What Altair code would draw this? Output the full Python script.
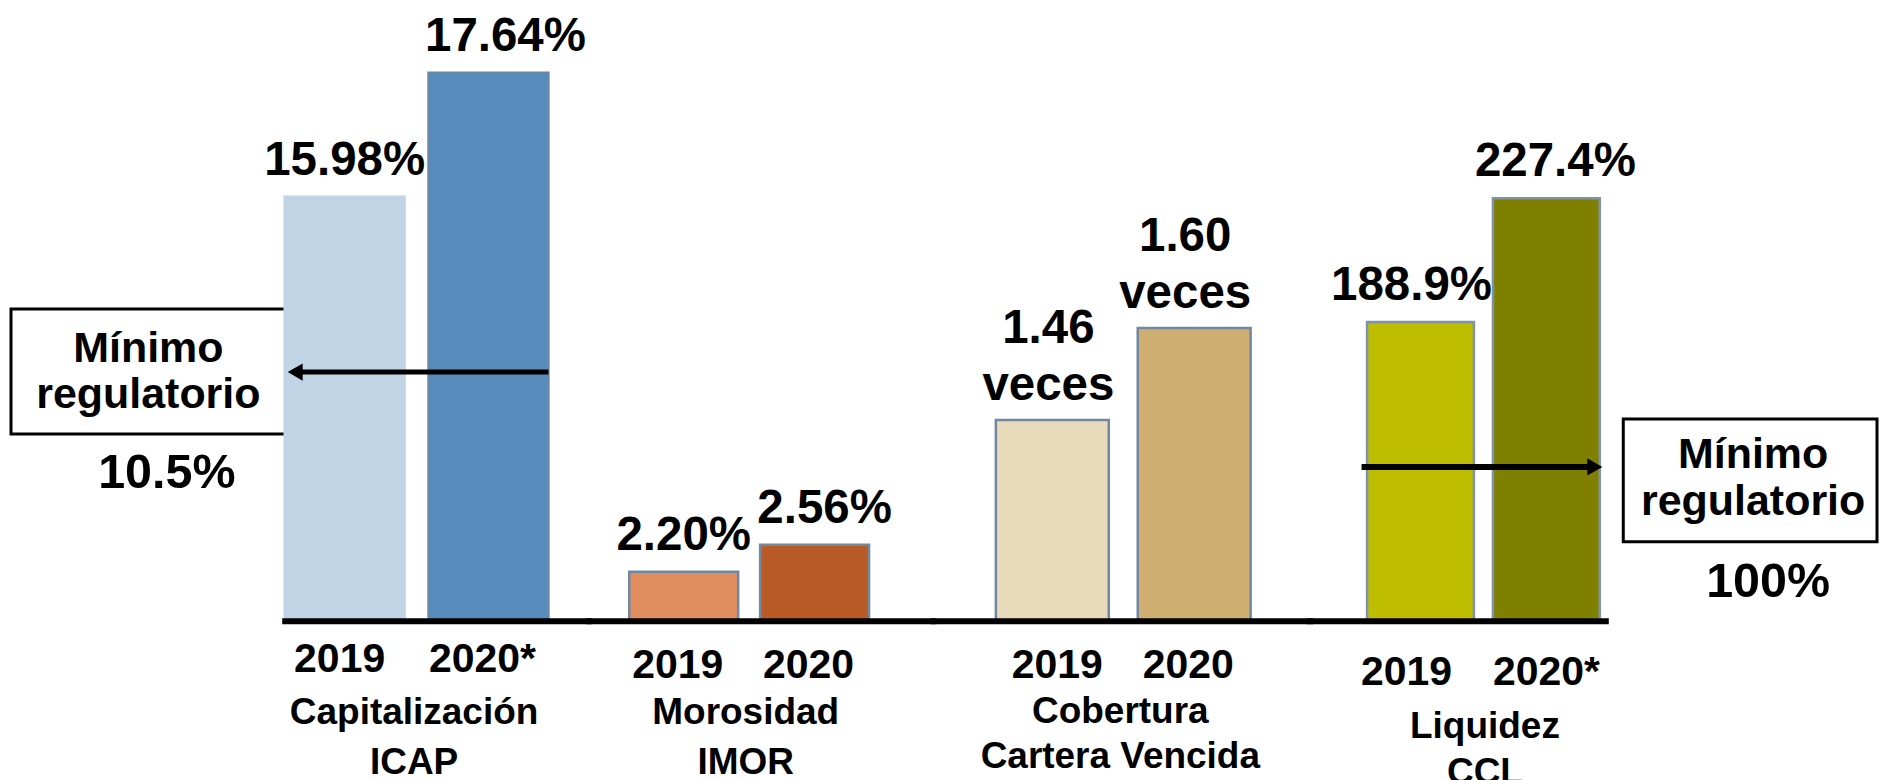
import altair as alt
import pandas as pd

FONT = "Liberation Sans"

# ---------------- data ----------------
group_titles = [["Capitalización", "ICAP"], ["Morosidad", "IMOR"],
                ["Cobertura", "Cartera Vencida"], ["Liquidez", "CCL"]]
years = [["2019", "2020*"], ["2019", "2020"], ["2019", "2020"], ["2019", "2020*"]]
values = [[15.98, 17.64], [2.20, 2.56], [1.46, 1.60], [188.9, 227.4]]
value_labels = [["15.98%", "17.64%"], ["2.20%", "2.56%"], ["1.46", "1.60"], ["188.9%", "227.4%"]]
unit_labels = [["", ""], ["", ""], ["veces", "veces"], ["", ""]]
fill_colors = [["#C0D4E6", "#578BBB"], ["#E08D5F", "#B85B26"],
               ["#E8DABA", "#CFAF71"], ["#BFBD00", "#808000"]]
stroke_colors = [["#C0D4E6", "#6A87A6"], ["#7088A0", "#7088A0"],
                 ["#7088A0", "#7088A0"], ["#7C93AA", "#7C93AA"]]
box_text = ["Mínimo", "regulatorio"]
minimum_labels = ["10.5%", "100%"]

# ---------------- layout (not data) ----------------
H = 612
Y_DOMAINS = [(10.30, 18.49), (1.547, 9.707), (1.154, 2.0855), (96.07, 286.07)]
WIDTHS = [304, 345, 377, 296]
BAND = [(0.1667, 0.139, 0.0), (0.168, 0.4008, 0.39), (0.204, 0.4296, 0.516), (0.151, 0.25, 0.913)]
LABEL_PAD = [19, 25, 25, 32]
LABEL_OFFSET = [(-5, -6), (-6, -6), (5, -6), (-14, 0)]
VALUE_DX = [[0, 17], [0, 10], [-4, -9], [-9, 9]]
TITLE_X = [129, 157, 187, 175]
TITLE_Y = [74, 74, 73, 88]
TITLE_LH = [50, 50, 45, 46]
LEFT_W = 276
RIGHT_W = 1873 - LEFT_W - sum(WIDTHS)

one = pd.DataFrame({"k": [0]})


def panel(i):
    df = pd.DataFrame({
        "year": years[i], "value": values[i], "label": value_labels[i],
        "unit": unit_labels[i], "fill": fill_colors[i], "stroke": stroke_colors[i],
    })
    d0, d1 = Y_DOMAINS[i]
    pi, po, al = BAND[i]
    off0, off1 = LABEL_OFFSET[i]
    label_offset = {"condition": {"test": "datum.value === '%s'" % years[i][0], "value": off0},
                    "value": off1}
    x = alt.X("year:N", sort=years[i],
              scale=alt.Scale(paddingInner=pi, paddingOuter=po, align=al),
              axis=alt.Axis(title=group_titles[i], labelAngle=0, labelFont=FONT,
                            labelFontSize=41, labelFontWeight="bold", labelColor="black",
                            labelPadding=LABEL_PAD[i], labelOffset=label_offset,
                            ticks=False, tickSize=0,
                            domainColor="black", domainWidth=6, domainCap="square", zindex=1,
                            titleFont=FONT, titleFontSize=37, titleFontWeight="bold",
                            titleColor="black", titleBaseline="top", titleAlign="center",
                            titleX=TITLE_X[i], titleY=TITLE_Y[i],
                            titleLineHeight=TITLE_LH[i]))
    y = alt.Y("value:Q", scale=alt.Scale(domain=[d0, d1], zero=False, nice=False), axis=None)
    base = alt.Chart(df)
    bars = base.mark_bar(strokeWidth=2.5).encode(
        x=x, y=y, y2=alt.Y2Datum(d0),
        fill=alt.Fill("fill:N", scale=None),
        stroke=alt.Stroke("stroke:N", scale=None),
    )
    layers = [bars]
    has_unit = any(unit_labels[i])
    tkw = dict(font=FONT, fontSize=47.5, fontWeight="bold", color="black",
               align="center", baseline="alphabetic")
    for j, yr in enumerate(years[i]):
        sub = base.transform_filter(alt.datum.year == yr)
        layers.append(sub.mark_text(dy=-77 if has_unit else -22, dx=VALUE_DX[i][j], **tkw).encode(
            x=x, y=y, text="label:N"))
        if has_unit:
            layers.append(sub.mark_text(dy=-20, dx=VALUE_DX[i][j], **tkw).encode(
                x=x, y=y, text="unit:N"))
    if i == 0:
        layers.append(alt.Chart(one).mark_rule(color="black", strokeWidth=5).encode(
            x=alt.value(264), x2=alt.value(12), y=alt.value(363)))
        layers.append(alt.Chart(one).mark_point(shape="triangle-left", filled=True, size=300,
                                                color="black", opacity=1).encode(
            x=alt.value(10.5), y=alt.value(363)))
    if i == 3:
        layers.append(alt.Chart(one).mark_rule(color="black", strokeWidth=6).encode(
            x=alt.value(52), x2=alt.value(284), y=alt.value(458)))
        layers.append(alt.Chart(one).mark_point(shape="triangle-right", filled=True, size=300,
                                                color="black", opacity=1).encode(
            x=alt.value(285.5), y=alt.value(458)))
    return alt.layer(*layers).properties(width=WIDTHS[i], height=H)


def box_panel(width, bx1, bx2, by1, by2, cx, l1, l2, mcx, mby, mlabel):
    rect = alt.Chart(one).mark_rect(fill="white", stroke="black", strokeWidth=3).encode(
        x=alt.value(bx1), x2=alt.value(bx2), y=alt.value(by1), y2=alt.value(by2))
    kw = dict(font=FONT, fontWeight="bold", color="black", align="center", baseline="alphabetic")
    t1 = alt.Chart(one).mark_text(fontSize=43, **kw).encode(
        x=alt.value(cx), y=alt.value(l1), text=alt.value(box_text[0]))
    t2 = alt.Chart(one).mark_text(fontSize=43, **kw).encode(
        x=alt.value(cx), y=alt.value(l2), text=alt.value(box_text[1]))
    t3 = alt.Chart(one).mark_text(fontSize=48.5, **kw).encode(
        x=alt.value(mcx), y=alt.value(mby), text=alt.value(mlabel))
    return alt.layer(rect, t1, t2, t3).properties(width=width, height=H)


left = box_panel(LEFT_W, 2, 278, 300, 425, 139.5, 353, 399, 158, 479, minimum_labels[0])
right = box_panel(RIGHT_W, 18, 272, 410, 533, 148, 459, 506, 163, 588, minimum_labels[1])

chart = alt.hconcat(left, panel(0), panel(1), panel(2), panel(3), right,
                    spacing=0, bounds="flush").properties(
    padding=0, background="white"
).configure_view(stroke="transparent")

chart.save("out.html", embed_options={"renderer": "svg", "actions": False})
